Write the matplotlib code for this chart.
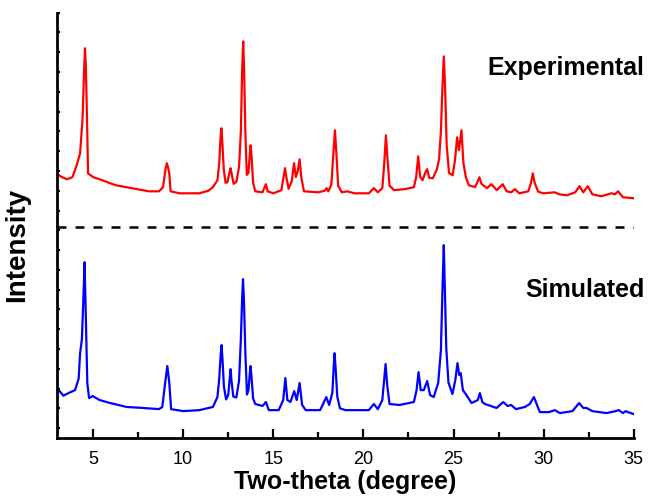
import matplotlib
matplotlib.use('Agg')
import matplotlib.pyplot as plt
import numpy as np

plt.rcParams['font.family'] = ['Liberation Sans', 'DejaVu Sans']

# experimental pattern: (two-theta, intensity in plot units, offset included)
exp_points = [
    (3.0, 13.33), (3.3, 13.18), (3.55, 13.08), (3.85, 13.18), (4.09, 13.79), (4.28, 14.39),
    (4.42, 16.2), (4.5, 18.5), (4.55, 19.70), (4.6, 18.8), (4.68, 15.4), (4.72, 13.38),
    (5.02, 13.18), (5.36, 13.08), (5.8, 12.93), (6.25, 12.78), (7.15, 12.63), (8.1, 12.47),
    (8.66, 12.47), (8.88, 12.68), (9.03, 13.64), (9.1, 13.89), (9.17, 13.64), (9.23, 13.38),
    (9.3, 12.47), (9.8, 12.37), (10.9, 12.37), (11.4, 12.5), (11.65, 12.68), (11.9, 13.03),
    (12.0, 13.9), (12.08, 15.3), (12.12, 15.66), (12.17, 15.0), (12.25, 13.6), (12.35, 12.9),
    (12.45, 12.93), (12.57, 13.43), (12.63, 13.64), (12.7, 13.3), (12.8, 12.85), (12.95, 12.95),
    (13.1, 13.7), (13.2, 15.5), (13.27, 18.5), (13.33, 20.05), (13.38, 18.7), (13.45, 15.5),
    (13.53, 13.3), (13.62, 13.4), (13.7, 14.4), (13.74, 14.80), (13.79, 14.3), (13.88, 12.9),
    (14.0, 12.47), (14.4, 12.42), (14.52, 12.68), (14.59, 12.83), (14.68, 12.47), (15.0, 12.37),
    (15.45, 12.53), (15.58, 13.23), (15.65, 13.64), (15.72, 13.2), (15.85, 12.6), (16.03, 13.0),
    (16.15, 13.89), (16.25, 13.2), (16.36, 13.5), (16.46, 14.09), (16.55, 13.2), (16.7, 12.47),
    (17.5, 12.42), (17.85, 12.5), (17.96, 12.63), (18.05, 12.47), (18.22, 12.8), (18.33, 14.3),
    (18.42, 15.56), (18.5, 14.4), (18.6, 12.75), (18.8, 12.42), (19.1, 12.47), (19.5, 12.37),
    (20.3, 12.37), (20.58, 12.63), (20.8, 12.42), (21.05, 12.63), (21.15, 13.8), (21.25, 15.30),
    (21.33, 14.2), (21.45, 12.75), (21.7, 12.53), (22.3, 12.58), (22.8, 12.68), (22.93, 13.2),
    (23.04, 14.24), (23.15, 13.2), (23.28, 13.03), (23.45, 13.45), (23.54, 13.59), (23.65, 13.15),
    (23.85, 13.13), (24.0, 13.43), (24.08, 13.59), (24.2, 14.1), (24.3, 15.5), (24.38, 17.6),
    (24.46, 19.29), (24.53, 17.8), (24.62, 14.8), (24.75, 13.4), (24.95, 13.28), (25.08, 14.04),
    (25.2, 15.20), (25.3, 14.55), (25.44, 15.56), (25.55, 13.9), (25.68, 13.2), (25.85, 12.78),
    (26.2, 12.68), (26.35, 13.0), (26.44, 13.18), (26.55, 12.85), (26.85, 12.63), (27.1, 12.83),
    (27.4, 12.53), (27.73, 12.83), (27.95, 12.47), (28.2, 12.42), (28.41, 12.58), (28.65, 12.37),
    (29.15, 12.47), (29.3, 12.9), (29.4, 13.38), (29.5, 12.9), (29.7, 12.45), (30.0, 12.37),
    (30.62, 12.42), (30.85, 12.32), (31.3, 12.27), (31.75, 12.42), (31.99, 12.73), (32.2, 12.42),
    (32.45, 12.73), (32.7, 12.32), (33.2, 12.22), (33.76, 12.37), (33.95, 12.32), (34.13, 12.47),
    (34.4, 12.17), (35.0, 12.12),
]

# simulated pattern
sim_points = [
    (3.0, 2.53), (3.35, 2.14), (3.7, 2.3), (4.0, 2.42), (4.2, 3.0), (4.28, 4.29), (4.38, 5.0),
    (4.46, 6.97), (4.53, 8.89), (4.6, 6.1), (4.68, 2.78), (4.78, 2.02), (4.98, 2.12),
    (5.36, 1.92), (5.94, 1.77), (6.86, 1.57), (7.75, 1.52), (8.66, 1.46), (8.84, 1.57),
    (9.0, 2.78), (9.12, 3.64), (9.23, 2.78), (9.33, 1.46), (10.0, 1.36), (10.9, 1.41),
    (11.65, 1.57), (11.9, 2.07), (12.0, 3.0), (12.08, 4.2), (12.13, 4.70), (12.18, 4.0),
    (12.26, 2.6), (12.38, 1.95), (12.5, 2.17), (12.58, 3.0), (12.63, 3.48), (12.68, 2.9),
    (12.78, 2.1), (12.95, 2.05), (13.1, 2.9), (13.2, 5.0), (13.27, 7.0), (13.32, 8.03),
    (13.37, 7.0), (13.45, 4.3), (13.54, 2.2), (13.62, 2.42), (13.7, 3.3), (13.74, 3.64),
    (13.79, 3.1), (13.88, 2.0), (14.0, 1.72), (14.4, 1.62), (14.59, 1.82), (14.75, 1.41),
    (15.3, 1.41), (15.55, 1.92), (15.67, 3.03), (15.78, 1.92), (15.95, 1.82), (16.16, 2.37),
    (16.3, 1.92), (16.46, 2.78), (16.6, 1.67), (16.8, 1.41), (17.6, 1.41), (17.94, 2.07),
    (18.1, 1.67), (18.28, 2.3), (18.35, 3.6), (18.4, 4.29), (18.46, 3.5), (18.55, 2.1),
    (18.7, 1.5), (19.0, 1.41), (20.3, 1.41), (20.58, 1.72), (20.8, 1.46), (21.05, 1.92),
    (21.15, 2.93), (21.23, 3.74), (21.32, 2.68), (21.45, 1.72), (22.0, 1.67), (22.8, 1.82),
    (22.95, 2.42), (23.06, 3.33), (23.18, 2.42), (23.35, 2.42), (23.54, 2.88), (23.7, 2.17),
    (23.9, 2.07), (24.15, 2.78), (24.3, 4.44), (24.4, 7.98), (24.46, 9.75), (24.52, 7.5),
    (24.6, 4.5), (24.72, 2.8), (24.94, 2.22), (25.1, 2.93), (25.22, 3.79), (25.32, 3.18),
    (25.4, 3.28), (25.52, 2.42), (25.68, 2.22), (26.0, 1.77), (26.35, 1.92), (26.46, 2.27),
    (26.6, 1.82), (26.74, 1.72), (27.39, 1.52), (27.76, 1.82), (28.0, 1.62), (28.2, 1.67),
    (28.46, 1.46), (28.96, 1.57), (29.23, 1.72), (29.46, 2.07), (29.79, 1.31), (30.3, 1.31),
    (30.62, 1.41), (30.9, 1.26), (31.6, 1.36), (31.97, 1.77), (32.2, 1.52), (32.38, 1.52),
    (32.7, 1.36), (33.49, 1.26), (34.0, 1.36), (34.17, 1.41), (34.4, 1.26), (34.55, 1.36),
    (34.67, 1.31), (35.0, 1.21),
]

divider = 10.65
labels = ['Experimental', 'Simulated']
label_y = [18.7, 7.5]

exp_x, exp_y = zip(*exp_points)
sim_x, sim_y = zip(*sim_points)

fig = plt.figure(figsize=(6.48, 5.01), dpi=100)
ax = fig.add_axes([0.088, 0.1257, 0.890, 0.849])

ax.plot(exp_x, exp_y, color='#ff0000', lw=1.6, solid_joinstyle='round')
ax.plot(sim_x, sim_y, color='#0000ff', lw=1.6, solid_joinstyle='round')
ax.axhline(divider, color='black', lw=1.8, dashes=(3.6, 3.6))

for txt, yy in zip(labels, label_y):
    ax.text(35.6, yy, txt, ha='right', va='center', fontsize=18,
            fontweight='bold', clip_on=False)

ax.set_xlim(3, 35)
ax.set_ylim(0, 21.5)
ax.set_xticks([5, 10, 15, 20, 25, 30, 35])
ax.set_xticks([7.5, 12.5, 17.5, 22.5, 27.5, 32.5], minor=True)
ax.set_yticks(np.arange(0.5, 21.6, 1))
ax.set_yticklabels([])

ax.spines['top'].set_visible(False)
ax.spines['right'].set_visible(False)
ax.spines['left'].set_linewidth(2)
ax.spines['bottom'].set_linewidth(2)
ax.tick_params(axis='x', which='major', direction='in', length=6.5, width=1.6,
               labelsize=13, pad=9)
ax.tick_params(axis='x', which='minor', direction='in', length=4, width=1.6)
ax.tick_params(axis='y', direction='in', length=2.5, width=1.5)

ax.set_xlabel('Two-theta (degree)', fontsize=18, fontweight='bold', labelpad=2)
ax.set_ylabel('Intensity', fontsize=20, fontweight='bold')
ax.yaxis.set_label_coords(-0.047, 0.454)

fig.savefig('out.png', dpi=100)
